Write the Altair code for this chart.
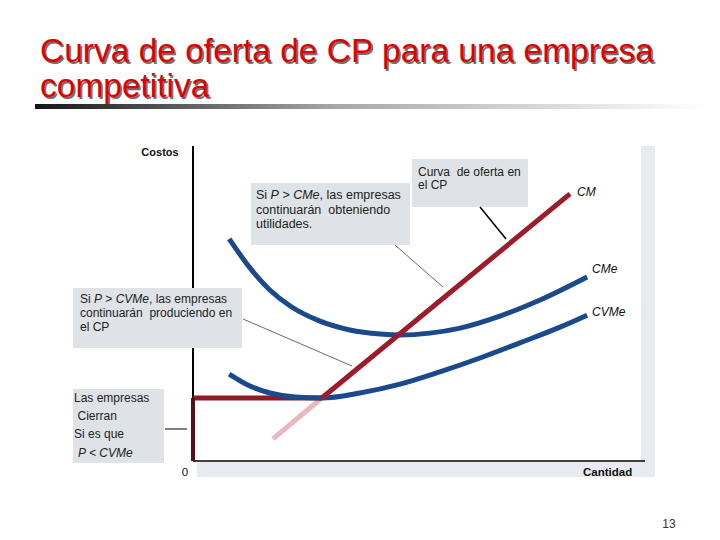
import altair as alt
import pandas as pd

# ---------------- data (economic units: Cantidad 0-10, Costos 0-10) ----------------
cme_q = [0.80, 1.26, 1.70, 2.15, 2.81, 3.47, 4.14, 4.58, 5.24, 5.91, 6.79, 7.68, 8.72]
cme_c = [7.05, 6.13, 5.43, 4.92, 4.44, 4.16, 4.03, 4.00, 4.06, 4.22, 4.60, 5.11, 5.84]
cvme_q = [0.80, 1.26, 1.70, 2.26, 2.85, 3.69, 4.58, 5.46, 6.35, 7.23, 8.12, 8.72]
cvme_c = [2.76, 2.38, 2.16, 2.03, 2.00, 2.16, 2.44, 2.83, 3.27, 3.75, 4.25, 4.63]
cm_low_q = [1.77, 2.85]
cm_low_c = [0.70, 2.00]
cm_q = [2.85, 8.34]
cm_c = [2.00, 8.48]
step_h_q = [0.0, 2.85]
step_h_c = [2.00, 2.00]
step_v_q = [0.0, 0.0]
step_v_c = [0.0, 2.00]
axis_max = [10.0]

title_lines = ["Curva de oferta de CP para una empresa", "competitiva"]
curve_labels = ["CM", "CMe", "CVMe"]
box1_lines = ["continuarán\u00a0 obteniendo", "utilidades."]
box2_lines = ["Curva\u00a0 de oferta en", "el CP"]
box3_lines = ["continuarán\u00a0 produciendo en", "el CP"]
box4_lines = ["Las empresas", "Cierran", "Si es que"]
page_number = "13"

# ---------------- layout ----------------
OX, OY = 193, 146          # page position of plot-area top-left
W, H = 452, 315
FONT = "Liberation Sans, Arial, sans-serif"

XS = alt.Scale(domain=[0, 10], nice=False, zero=False)
YS = alt.Scale(domain=[0, 10], nice=False, zero=False)

one = pd.DataFrame({"d": [0]})

AW = {" ": 278, ",": 278, ".": 278, ">": 584, "<": 584, "a": 556, "b": 556, "c": 500,
      "d": 556, "e": 556, "f": 278, "g": 556, "h": 556, "i": 222, "l": 222, "m": 833,
      "n": 556, "o": 556, "p": 556, "q": 556, "r": 333, "s": 500, "t": 278, "u": 556,
      "v": 500, "á": 556, "C": 722, "L": 556, "M": 833, "P": 667, "S": 667, "V": 667}


def tw(s, size):
    return sum(AW.get(ch, 556) for ch in s) * size / 1000.0


def px(x):
    return x - OX


def py(y):
    return y - OY


def text(t, x, y, size=12, style="normal", weight="normal", color="#222222",
         align="left", baseline="middle"):
    return alt.Chart(pd.DataFrame({"t": [t]})).mark_text(
        font=FONT, fontSize=size, fontStyle=style, fontWeight=weight, color=color,
        align=align, baseline=baseline
    ).encode(x=alt.value(px(x)), y=alt.value(py(y)), text="t:N")


def rich(segments, x, y, size=12, color="#222222"):
    out = []
    cx = x
    for s, st in segments:
        lead = len(s) - len(s.lstrip(" "))
        out.append(text(s.strip(" "), cx + tw(" " * lead, size), y, size=size, style=st,
                        color=color))
        cx += tw(s, size)
    return out


def box(x1, y1, x2, y2, color="#dfe2e6"):
    return alt.Chart(one).mark_rect(color=color).encode(
        x=alt.value(px(x1)), x2=alt.value(px(x2)), y=alt.value(py(y1)), y2=alt.value(py(y2)))


def seg(x1, y1, x2, y2, color="#000000", width=1.0):
    return alt.Chart(one).mark_rule(color=color, strokeWidth=width).encode(
        x=alt.value(px(x1)), x2=alt.value(px(x2)), y=alt.value(py(y1)), y2=alt.value(py(y2)))


def curve(qs, cs, color, width, interp="linear"):
    df = pd.DataFrame({"q": qs, "c": cs, "o": list(range(len(qs)))})
    return alt.Chart(df).mark_line(color=color, strokeWidth=width, interpolate=interp,
                                   strokeCap="butt").encode(
        x=alt.X("q:Q", scale=XS, axis=None),
        y=alt.Y("c:Q", scale=YS, axis=None),
        order="o:Q")


layers = []

# title
for i, line in enumerate(title_lines):
    yb = 62 + 35 * i
    layers.append(text(line, 41.5, yb + 1.5, size=33.5, color="#707070", baseline="alphabetic"))
    layers.append(text(line, 40, yb, size=33.5, color="#e10000", baseline="alphabetic"))

grad = alt.LinearGradient(
    gradient="linear",
    stops=[alt.GradientStop(offset=0, color="#151515"),
           alt.GradientStop(offset=0.45, color="#a8a8a8"),
           alt.GradientStop(offset=1, color="#ffffff")],
    x1=0, x2=1, y1=0, y2=0)
layers.append(alt.Chart(one).mark_rect(color=grad).encode(
    x=alt.value(px(35)), x2=alt.value(px(705)), y=alt.value(py(104)), y2=alt.value(py(109))))

# chart image shadow band
layers.append(box(641, 146, 655, 477, color="#e7ebf1"))
layers.append(box(197, 462, 655, 477, color="#e7ebf1"))

# axes (data coordinates)
ax_df = pd.DataFrame({"q0": [0.0], "c0": [0.0], "m": axis_max})
layers.append(alt.Chart(ax_df).mark_rule(color="#000000", strokeWidth=2).encode(
    x=alt.X("q0:Q", scale=XS, axis=None), y=alt.Y("c0:Q", scale=YS, axis=None), y2="m:Q"))
layers.append(alt.Chart(ax_df).mark_rule(color="#000000", strokeWidth=1.5).encode(
    y=alt.Y("c0:Q", scale=YS, axis=None), x=alt.X("q0:Q", scale=XS, axis=None), x2="m:Q"))

# supply curve pieces under the blue curves
layers.append(curve(cm_low_q, cm_low_c, "#e8b8c0", 5))
layers.append(curve(step_h_q, step_h_c, "#8e1b25", 5))
layers.append(curve(step_v_q, step_v_c, "#571016", 4))

# cost curves
layers.append(curve(cme_q, cme_c, "#1b4a8c", 5, "monotone"))
layers.append(curve(cvme_q, cvme_c, "#1b4a8c", 5, "monotone"))
layers.append(curve(cm_q, cm_c, "#9c1c2c", 5))

# curve labels
layers.append(text(curve_labels[0], 577, 192, size=12, style="italic", color="#111111"))
layers.append(text(curve_labels[1], 592, 269, size=12, style="italic", color="#111111"))
layers.append(text(curve_labels[2], 592, 312, size=12, style="italic", color="#111111"))

# axis labels
layers.append(text("Costos", 160, 153, size=11, weight="bold", color="#111111", align="center"))
layers.append(text("0", 185, 473, size=11.5, color="#111111", align="center"))
layers.append(text("Cantidad", 583, 473, size=11.5, weight="bold", color="#111111"))

# annotation box 1
layers.append(box(251, 183, 410, 245))
layers += rich([("Si ", "normal"), ("P", "italic"), (" > ", "normal"), ("CMe", "italic"),
                (", las empresas", "normal")], 256, 195, size=12.5)
layers.append(text(box1_lines[0], 256, 209.5, size=12.5))
layers.append(text(box1_lines[1], 256, 224, size=12.5))

# annotation box 2
layers.append(box(412, 159, 528, 207))
layers.append(text(box2_lines[0], 418, 172, size=12))
layers.append(text(box2_lines[1], 418, 185, size=12))

# annotation box 3
layers.append(box(73, 288, 242, 348))
layers += rich([("Si ", "normal"), ("P", "italic"), (" > ", "normal"), ("CVMe", "italic"),
                (", las empresas", "normal")], 80, 299, size=12)
layers.append(text(box3_lines[0], 80, 313, size=12))
layers.append(text(box3_lines[1], 80, 327, size=12))

# annotation box 4
layers.append(box(73, 389, 164, 463))
layers.append(text(box4_lines[0], 74, 398, size=12))
layers.append(text(box4_lines[1], 77.5, 416, size=12))
layers.append(text(box4_lines[2], 74, 434, size=12))
layers.append(text("P < CVMe", 78, 453, size=12, style="italic"))

# connectors
layers.append(seg(165, 429, 187, 429, "#000000", 1))
layers.append(seg(243, 319, 352, 366, "#444444", 0.8))
layers.append(seg(395, 245, 443, 287, "#444444", 0.8))
layers.append(seg(480, 207, 506, 239, "#000000", 1.5))

# page number
layers.append(text(page_number, 669, 524, size=12, color="#333333", align="center"))

chart = alt.layer(*layers).properties(
    width=W, height=H,
    padding={"left": OX - 8, "top": OY - 8, "right": 704 - (OX - 8) - W,
             "bottom": 524 - (OY - 8) - H},
    autosize=alt.AutoSizeParams(type="none"),
    background="#ffffff",
).configure_view(strokeWidth=0)

chart.save("out.html", embed_options={"renderer": "svg", "actions": False})
